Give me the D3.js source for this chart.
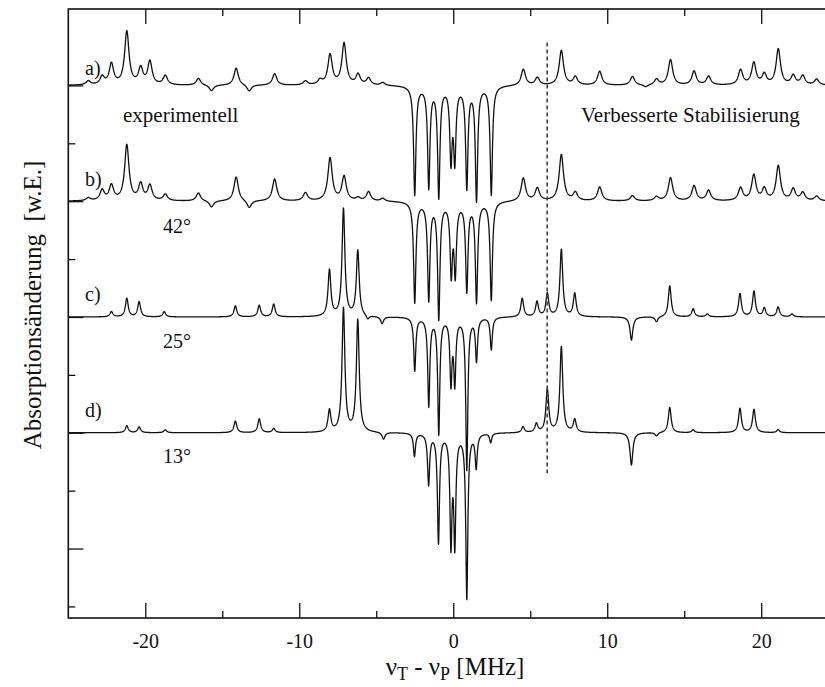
<!DOCTYPE html>
<html>
<head>
<meta charset="utf-8">
<script src="https://cdn.jsdelivr.net/npm/d3@7"></script>
<style>
  body { margin: 0; background: #fff; }
  text { font-family: "Liberation Serif", "Times New Roman", serif; fill: #111; }
</style>
</head>
<body>
<div id="chart"></div>
<script>
// line lists: [position in MHz, amplitude in units of the trace spacing]
var linesA = [[-23.7,0.035],[-22.8,0.07],[-22.2,0.18],[-21.2,0.46],[-20.3,0.14],[-19.7,0.2],[-18.7,0.08],
  [-16.55,0.06],[-15.7,-0.05],[-14.1,0.15],[-13.25,-0.055],[-11.6,0.1],[-9.6,0.035],[-8.65,0.04],[-8.0,0.26],
  [-7.09,0.36],[-6.18,0.09],[-5.5,0.06],[-4.58,0.025],[4.55,0.14],[5.46,0.065],[7.02,0.3],[7.93,0.07],
  [9.51,0.12],[11.64,0.075],[12.5,-0.02],[13.2,0.05],[14.11,0.22],[15.64,0.12],[16.58,0.075],[18.66,0.13],
  [19.52,0.19],[20.2,0.09],[21.11,0.31],[22.08,0.08],[22.7,0.08],[23.6,0.05]];
var dipsA = [[-2.5,-0.94],[-1.59,-0.87],[-0.94,-0.95],[-0.15,-0.62],[0.1,-0.62],[0.88,-0.87],[1.51,-0.98],[2.47,-0.94]];

var linesB = [[-23.7,0.025],[-22.8,0.09],[-22.2,0.13],[-21.2,0.48],[-20.3,0.14],[-19.7,0.13],[-18.7,0.055],
  [-16.55,0.07],[-15.7,-0.055],[-14.1,0.21],[-13.25,-0.065],[-11.6,0.19],[-9.6,0.07],[-8.0,0.37],[-7.09,0.21],
  [-6.18,0.025],[-5.5,0.08],[-4.58,0.025],[4.55,0.2],[5.46,0.11],[7.02,0.4],[7.93,0.07],[9.51,0.12],
  [11.64,0.045],[13.2,0.035],[14.11,0.2],[15.64,0.13],[16.58,0.09],[18.66,0.11],[19.52,0.22],[20.2,0.1],
  [21.11,0.3],[22.08,0.1],[22.7,0.07],[23.6,0.04]];
var dipsB = [[-2.5,-0.87],[-1.59,-0.84],[-0.94,-1.0],[-0.13,-0.6],[0.13,-0.6],[0.88,-0.76],[1.51,-0.86],[2.47,-0.85]];

var linesC = [[-22.2,0.045],[-21.2,0.16],[-20.4,0.13],[-18.77,0.045],[-14.15,0.095],[-12.6,0.1],[-11.66,0.11],
  [-8.04,0.4],[-7.13,0.93],[-6.2,0.57],[-5.55,-0.035],[-4.62,-0.06],[4.48,0.16],[5.44,0.13],[6.11,0.2],
  [7.02,0.58],[7.89,0.2],[11.57,-0.2],[13.2,-0.045],[14.06,0.27],[15.58,0.07],[16.5,0.025],[18.62,0.2],
  [19.53,0.22],[20.2,0.075],[21.1,0.085],[22.0,0.025]];
var dipsC = [[-2.5,-0.46],[-1.59,-0.76],[-0.94,-1.0],[-0.15,-0.55],[0.1,-0.55],[0.88,-1.31],[1.51,-0.37],[2.47,-0.28]];

var linesD = [[-21.2,0.06],[-20.4,0.05],[-18.7,0.025],[-14.15,0.1],[-12.6,0.12],[-11.66,0.035],[-8.04,0.19],
  [-7.13,1.07],[-6.2,0.97],[-4.53,-0.06],[4.53,0.05],[5.4,0.075],[6.11,0.37],[7.02,0.74],[7.89,0.11],
  [11.57,-0.28],[13.2,-0.03],[14.06,0.22],[15.58,0.025],[18.62,0.21],[19.53,0.2],[21.1,0.025]];
var dipsD = [[-2.52,-0.2],[-1.6,-0.44],[-0.96,-0.94],[-0.15,-0.93],[0.1,-0.93],[0.88,-1.42],[1.49,-0.29],[2.43,-0.08]];

var traceOffsets = [4, 3, 2, 1];
var lineWidths = [0.17, 0.17, 0.11, 0.11];   // half width of side lines, MHz
var dipWidths = [0.09, 0.09, 0.08, 0.08];    // half width of central lines, MHz
var traceLabels = ["a)", "b)", "c)", "d)"];
var angleLabels = ["42°", "25°", "13°"];
var xMajor = [-20, -10, 0, 10, 20];
var xMinor = [-15, -5, 5, 15];
var yMajor = [0, 1, 2, 3, 4];
var yMinor = [-0.5, 0.5, 1.5, 2.5, 3.5];
var markerX = 6.1;
var markerSpan = [0.65, 4.37];

var W = 825, H = 687;
var x = d3.scaleLinear().domain([-25, 25]).range([68.3, 838.2]);
var y = d3.scaleLinear().domain([-0.6, 4.66]).range([618, 9]);

var svg = d3.select("#chart").append("svg")
  .attr("width", W).attr("height", H)
  .style("background", "#fff");

// frame (right side runs past the picture edge like in the original)
svg.append("rect")
  .attr("x", x(-25)).attr("y", y(4.66))
  .attr("width", x(25) - x(-25)).attr("height", y(-0.6) - y(4.66))
  .attr("fill", "none").attr("stroke", "#111").attr("stroke-width", 1.6);

function tickAxis(axis, tr, size, vals, fmt) {
  var g = svg.append("g").attr("transform", tr)
    .call(axis.tickValues(vals).tickSize(size).tickPadding(16).tickFormat(fmt));
  g.select(".domain").remove();
  g.selectAll("line").attr("stroke", "#111").attr("stroke-width", 1.3);
  return g;
}
var bottom = tickAxis(d3.axisBottom(x), "translate(0," + y(-0.6) + ")", -15, xMajor, function(d) { return String(d); });
bottom.selectAll("text").style("font-size", "20px").attr("fill", "#111");
tickAxis(d3.axisBottom(x), "translate(0," + y(-0.6) + ")", -7, xMinor, function() { return ""; });
tickAxis(d3.axisTop(x), "translate(0," + y(4.66) + ")", -15, xMajor, function() { return ""; });
tickAxis(d3.axisTop(x), "translate(0," + y(4.66) + ")", -7, xMinor, function() { return ""; });
tickAxis(d3.axisLeft(y), "translate(" + x(-25) + ",0)", -15, yMajor, function() { return ""; });
tickAxis(d3.axisLeft(y), "translate(" + x(-25) + ",0)", -7, yMinor, function() { return ""; });

// spectra: sum of Lorentzian lines on each baseline
var grid = d3.range(-25, 25.001, 0.01);
var allLines = [[linesA, dipsA], [linesB, dipsB], [linesC, dipsC], [linesD, dipsD]];
var line = d3.line().x(function(d) { return x(d[0]); }).y(function(d) { return y(d[1]); });

allLines.forEach(function(set, i) {
  var pts = grid.map(function(v) {
    var s = traceOffsets[i];
    set[0].forEach(function(p) { var g = lineWidths[i]; s += p[1] * g * g / ((v - p[0]) * (v - p[0]) + g * g); });
    set[1].forEach(function(p) { var g = dipWidths[i]; s += p[1] * g * g / ((v - p[0]) * (v - p[0]) + g * g); });
    return [v, s];
  });
  svg.append("path").datum(pts)
    .attr("d", line)
    .attr("fill", "none").attr("stroke", "#111").attr("stroke-width", 1.3)
    .attr("stroke-linejoin", "round");
});

// dotted marker
svg.append("line")
  .attr("x1", x(markerX)).attr("x2", x(markerX))
  .attr("y1", y(markerSpan[1])).attr("y2", y(markerSpan[0]))
  .attr("stroke", "#444").attr("stroke-width", 1.6).attr("stroke-dasharray", "4,3");

// labels
var labelY = [75, 186, 301, 417];
traceLabels.forEach(function(t, i) {
  svg.append("text").attr("x", 85).attr("y", labelY[i]).style("font-size", "20px").text(t);
});
var angleY = [233, 348, 463];
angleLabels.forEach(function(t, i) {
  svg.append("text").attr("x", 163).attr("y", angleY[i]).style("font-size", "20px").text(t);
});
svg.append("text").attr("x", 123).attr("y", 122).style("font-size", "21px").text("experimentell");
svg.append("text").attr("x", 581).attr("y", 122).style("font-size", "21px").text("Verbesserte Stabilisierung");

// axis titles
var xt = svg.append("text").attr("x", 455).attr("y", 675)
  .attr("text-anchor", "middle").style("font-size", "25px");
xt.append("tspan").text("ν");
xt.append("tspan").attr("dy", 5).style("font-size", "18px").text("T");
xt.append("tspan").attr("dy", -5).text(" - ν");
xt.append("tspan").attr("dy", 5).style("font-size", "18px").text("P");
xt.append("tspan").attr("dy", -5).text(" [MHz]");

svg.append("text")
  .attr("transform", "translate(41,305) rotate(-90)")
  .attr("text-anchor", "middle").style("font-size", "25px")
  .style("white-space", "pre")
  .text("Absorptionsänderung  [w.E.]");
</script>
</body>
</html>
